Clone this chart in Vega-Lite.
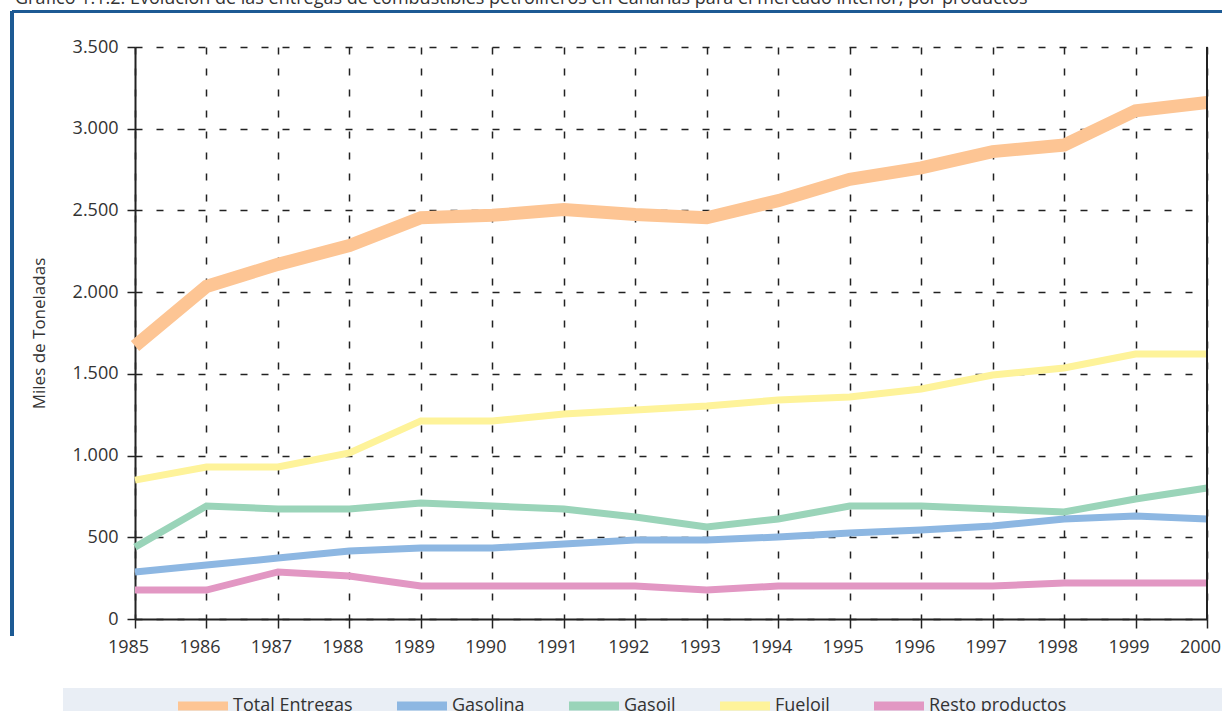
{
  "$schema": "https://vega.github.io/schema/vega-lite/v6.json",
  "width": 1072,
  "height": 572,
  "autosize": "none",
  "padding": {"left": 135, "top": 47, "right": 15, "bottom": 92},
  "background": "white",
  "config": {
    "locale": {"number": {"decimal": ",", "thousands": ".", "grouping": [3], "currency": ["", " €"]}},
    "font": "Open Sans",
    "view": {"stroke": null}
  },
  "title": {
    "text": "Gráfico 1.1.2. Evolución de las entregas de combustibles petrolíferos en Canarias para el mercado interior, por productos",
    "anchor": "start",
    "frame": "group",
    "baseline": "alphabetic",
    "dx": -120,
    "offset": 0,
    "dy": 11,
    "fontSize": 18,
    "fontWeight": "normal",
    "color": "#333"
  },
  "data": {
    "values": [
      {"year": 1985, "serie": "Total Entregas", "value": 1670},
      {"year": 1986, "serie": "Total Entregas", "value": 2035},
      {"year": 1987, "serie": "Total Entregas", "value": 2170},
      {"year": 1988, "serie": "Total Entregas", "value": 2285},
      {"year": 1989, "serie": "Total Entregas", "value": 2455},
      {"year": 1990, "serie": "Total Entregas", "value": 2470},
      {"year": 1991, "serie": "Total Entregas", "value": 2505},
      {"year": 1992, "serie": "Total Entregas", "value": 2475},
      {"year": 1993, "serie": "Total Entregas", "value": 2455},
      {"year": 1994, "serie": "Total Entregas", "value": 2560},
      {"year": 1995, "serie": "Total Entregas", "value": 2690},
      {"year": 1996, "serie": "Total Entregas", "value": 2760},
      {"year": 1997, "serie": "Total Entregas", "value": 2860},
      {"year": 1998, "serie": "Total Entregas", "value": 2900},
      {"year": 1999, "serie": "Total Entregas", "value": 3110},
      {"year": 2000, "serie": "Total Entregas", "value": 3160},
      {"year": 1985, "serie": "Gasolina", "value": 288},
      {"year": 1986, "serie": "Gasolina", "value": 330},
      {"year": 1987, "serie": "Gasolina", "value": 373},
      {"year": 1988, "serie": "Gasolina", "value": 416},
      {"year": 1989, "serie": "Gasolina", "value": 434},
      {"year": 1990, "serie": "Gasolina", "value": 434},
      {"year": 1991, "serie": "Gasolina", "value": 459},
      {"year": 1992, "serie": "Gasolina", "value": 483},
      {"year": 1993, "serie": "Gasolina", "value": 483},
      {"year": 1994, "serie": "Gasolina", "value": 502},
      {"year": 1995, "serie": "Gasolina", "value": 526},
      {"year": 1996, "serie": "Gasolina", "value": 545},
      {"year": 1997, "serie": "Gasolina", "value": 569},
      {"year": 1998, "serie": "Gasolina", "value": 612},
      {"year": 1999, "serie": "Gasolina", "value": 630},
      {"year": 2000, "serie": "Gasolina", "value": 612},
      {"year": 1985, "serie": "Gasoil", "value": 440},
      {"year": 1986, "serie": "Gasoil", "value": 691},
      {"year": 1987, "serie": "Gasoil", "value": 673},
      {"year": 1988, "serie": "Gasoil", "value": 673},
      {"year": 1989, "serie": "Gasoil", "value": 710},
      {"year": 1990, "serie": "Gasoil", "value": 691},
      {"year": 1991, "serie": "Gasoil", "value": 673},
      {"year": 1992, "serie": "Gasoil", "value": 624},
      {"year": 1993, "serie": "Gasoil", "value": 563},
      {"year": 1994, "serie": "Gasoil", "value": 612},
      {"year": 1995, "serie": "Gasoil", "value": 691},
      {"year": 1996, "serie": "Gasoil", "value": 691},
      {"year": 1997, "serie": "Gasoil", "value": 673},
      {"year": 1998, "serie": "Gasoil", "value": 655},
      {"year": 1999, "serie": "Gasoil", "value": 734},
      {"year": 2000, "serie": "Gasoil", "value": 802},
      {"year": 1985, "serie": "Fueloil", "value": 850},
      {"year": 1986, "serie": "Fueloil", "value": 930},
      {"year": 1987, "serie": "Fueloil", "value": 930},
      {"year": 1988, "serie": "Fueloil", "value": 1016},
      {"year": 1989, "serie": "Fueloil", "value": 1212},
      {"year": 1990, "serie": "Fueloil", "value": 1212},
      {"year": 1991, "serie": "Fueloil", "value": 1254},
      {"year": 1992, "serie": "Fueloil", "value": 1279},
      {"year": 1993, "serie": "Fueloil", "value": 1303},
      {"year": 1994, "serie": "Fueloil", "value": 1340},
      {"year": 1995, "serie": "Fueloil", "value": 1358},
      {"year": 1996, "serie": "Fueloil", "value": 1407},
      {"year": 1997, "serie": "Fueloil", "value": 1493},
      {"year": 1998, "serie": "Fueloil", "value": 1536},
      {"year": 1999, "serie": "Fueloil", "value": 1621},
      {"year": 2000, "serie": "Fueloil", "value": 1621},
      {"year": 1985, "serie": "Resto productos", "value": 177},
      {"year": 1986, "serie": "Resto productos", "value": 177},
      {"year": 1987, "serie": "Resto productos", "value": 288},
      {"year": 1988, "serie": "Resto productos", "value": 263},
      {"year": 1989, "serie": "Resto productos", "value": 202},
      {"year": 1990, "serie": "Resto productos", "value": 202},
      {"year": 1991, "serie": "Resto productos", "value": 202},
      {"year": 1992, "serie": "Resto productos", "value": 202},
      {"year": 1993, "serie": "Resto productos", "value": 177},
      {"year": 1994, "serie": "Resto productos", "value": 202},
      {"year": 1995, "serie": "Resto productos", "value": 202},
      {"year": 1996, "serie": "Resto productos", "value": 202},
      {"year": 1997, "serie": "Resto productos", "value": 202},
      {"year": 1998, "serie": "Resto productos", "value": 220},
      {"year": 1999, "serie": "Resto productos", "value": 220},
      {"year": 2000, "serie": "Resto productos", "value": 220}
    ]
  },
  "layer": [
    {
      "mark": {"type": "rect", "color": "#E9EEF5", "clip": false},
      "encoding": {
        "x": {"datum": 1983.993, "type": "quantitative"},
        "x2": {"datum": 2000.3},
        "y": {"datum": -422, "type": "quantitative"},
        "y2": {"datum": -600}
      }
    },
    {
      "mark": {"type": "line", "strokeCap": "butt"},
      "encoding": {
        "x": {
          "field": "year", "type": "quantitative",
          "scale": {"domain": [1985, 2000], "nice": false, "zero": false},
          "axis": {
            "title": null,
            "values": [1985, 1986, 1987, 1988, 1989, 1990, 1991, 1992, 1993, 1994, 1995, 1996, 1997, 1998, 1999, 2000],
            "format": "d",
            "labelFontSize": 18,
            "labelColor": "#333",
            "labelOffset": -7,
            "labelPadding": 10,
            "labelFlush": false,
            "tickSize": 9,
            "tickColor": "#222",
            "tickWidth": 1.5,
            "domainColor": "#222",
            "domainWidth": 2,
            "grid": true,
            "gridColor": "#222",
            "gridDash": [7, 14],
            "gridWidth": 1.5
          }
        },
        "y": {
          "field": "value", "type": "quantitative",
          "scale": {"domain": [0, 3500], "nice": false},
          "axis": {
            "title": "Miles de Toneladas",
            "titleFontSize": 17,
            "titleFontWeight": "normal",
            "titleColor": "#333",
            "titlePadding": 24,
            "values": [0, 500, 1000, 1500, 2000, 2500, 3000, 3500],
            "format": ",d",
            "labelFontSize": 18,
            "labelColor": "#333",
            "labelPadding": 9,
            "tickSize": 8,
            "tickColor": "#222",
            "tickWidth": 1.5,
            "domainColor": "#222",
            "domainWidth": 2,
            "grid": true,
            "gridColor": "#222",
            "gridDash": [7, 14],
            "gridWidth": 1.5
          }
        },
        "color": {
          "field": "serie", "type": "nominal",
          "scale": {
            "domain": ["Total Entregas", "Gasolina", "Gasoil", "Fueloil", "Resto productos"],
            "range": ["#FDC594", "#8DB7E2", "#9AD4B9", "#FEF39A", "#E297C3"]
          },
          "legend": {
            "title": null,
            "orient": "none",
            "legendX": 59,
            "legendY": 650,
            "direction": "horizontal",
            "symbolType": "M-50,0L50,0",
            "symbolSize": 1,
            "symbolStrokeWidth": 9,
            "labelFontSize": 18,
            "labelColor": "#333",
            "labelOffset": 21,
            "columnPadding": 26,
            "padding": 0
          }
        },
        "strokeWidth": {
          "condition": {"test": "datum.serie === 'Total Entregas'", "value": 13},
          "value": 7
        }
      }
    },
    {
      "mark": {"type": "rule", "color": "#1D5A94", "strokeWidth": 2.5, "clip": false},
      "encoding": {
        "x": {"datum": 1983.28, "type": "quantitative"},
        "y": {"datum": 3715, "type": "quantitative"},
        "y2": {"datum": -100}
      }
    },
    {
      "mark": {"type": "rule", "color": "#1D5A94", "strokeWidth": 2.5, "clip": false},
      "encoding": {
        "x": {"datum": 1983.28, "type": "quantitative"},
        "x2": {"datum": 2000.5},
        "y": {"datum": 3715, "type": "quantitative"}
      }
    },
    {
      "mark": {"type": "rule", "color": "#222", "strokeWidth": 2},
      "encoding": {
        "x": {"datum": 2000, "type": "quantitative"},
        "y": {"datum": 0, "type": "quantitative"},
        "y2": {"datum": 3500}
      }
    }
  ]
}
